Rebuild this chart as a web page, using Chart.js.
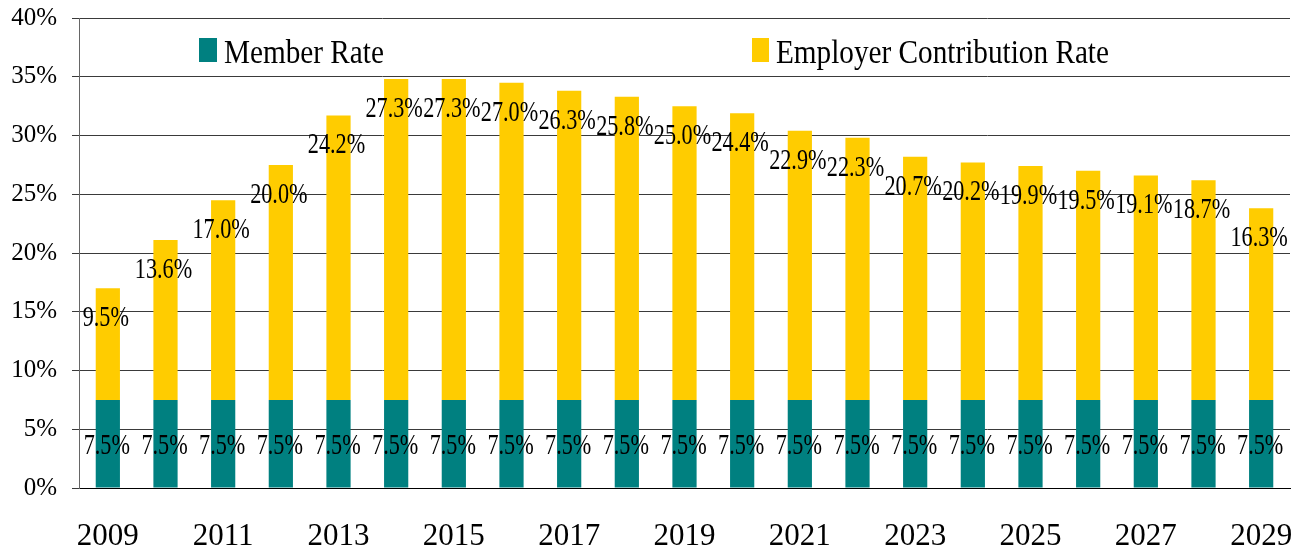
<!DOCTYPE html>
<html>
<head>
<meta charset="utf-8">
<script src="https://cdn.jsdelivr.net/npm/chart.js@4/dist/chart.umd.min.js"></script>
<style>
  html, body { margin: 0; padding: 0; background: #fff; }
  #wrap { width: 1301px; height: 554px; }
</style>
</head>
<body>
<div id="wrap"><canvas id="chart" width="1301" height="554"></canvas></div>
<script>
const years = ['2009', '2010', '2011', '2012', '2013', '2014', '2015', '2016', '2017', '2018', '2019',
  '2020', '2021', '2022', '2023', '2024', '2025', '2026', '2027', '2028', '2029'];
const memberRate = [7.5, 7.5, 7.5, 7.5, 7.5, 7.5, 7.5, 7.5, 7.5, 7.5, 7.5,
  7.5, 7.5, 7.5, 7.5, 7.5, 7.5, 7.5, 7.5, 7.5, 7.5];
const employerRate = [9.5, 13.6, 17.0, 20.0, 24.2, 27.3, 27.3, 27.0, 26.3, 25.8, 25.0,
  24.4, 22.9, 22.3, 20.7, 20.2, 19.9, 19.5, 19.1, 18.7, 16.3];
const yTicks = [0, 5, 10, 15, 20, 25, 30, 35, 40];

const SERIF = '"Liberation Serif", "Times New Roman", serif';

// draws the value labels and the in-plot legend
const labelPlugin = {
  id: 'barLabels',
  afterDatasetsDraw(chart) {
    const ctx = chart.ctx;
    ctx.save();
    ctx.fillStyle = '#000';
    ctx.textAlign = 'center';
    ctx.textBaseline = 'middle';
    ctx.font = '30px ' + SERIF;
    chart.data.datasets.forEach((ds, i) => {
      const meta = chart.getDatasetMeta(i);
      meta.data.forEach((el, j) => {
        const txt = ds.data[j].toFixed(1) + '%';
        const y = i === 0 ? (el.y + el.base) / 2 + 2 : el.y + 30;
        const x = i === 0 ? el.x - 1 : el.x - 2;
        ctx.save();
        ctx.translate(x, y);
        ctx.scale(0.74, 1);
        ctx.fillText(txt, 0, 0);
        ctx.restore();
      });
    });
    ctx.restore();
  },
  afterDraw(chart) {
    const ctx = chart.ctx;
    const spots = [{ box: 199, w: 18, text: 224 }, { box: 752, w: 17, text: 776 }];
    ctx.save();
    ctx.textBaseline = 'alphabetic';
    ctx.textAlign = 'left';
    ctx.font = '34px ' + SERIF;
    chart.data.datasets.forEach((ds, i) => {
      const s = spots[i];
      ctx.fillStyle = ds.backgroundColor;
      ctx.fillRect(s.box, 38, s.w, 24);
      ctx.fillStyle = '#000';
      ctx.save();
      ctx.translate(s.text, 63);
      ctx.scale(0.86, 1);
      ctx.fillText(ds.label, 0, 0);
      ctx.restore();
    });
    ctx.restore();
  }
};

new Chart(document.getElementById('chart'), {
  type: 'bar',
  data: {
    labels: years,
    datasets: [
      {
        label: 'Member Rate',
        data: memberRate,
        backgroundColor: '#008080',
        barPercentage: 0.42,
        categoryPercentage: 1
      },
      {
        label: 'Employer Contribution Rate',
        data: employerRate,
        backgroundColor: '#FFCC00',
        barPercentage: 0.42,
        categoryPercentage: 1
      }
    ]
  },
  options: {
    responsive: false,
    animation: false,
    layout: { padding: { top: 18, right: 11, left: 0, bottom: 0 } },
    plugins: {
      legend: { display: false },
      tooltip: { enabled: false }
    },
    scales: {
      x: {
        stacked: true,
        grid: { display: false, drawTicks: false },
        border: { display: true, color: '#000', width: 1 },
        ticks: {
          autoSkip: false,
          maxRotation: 0,
          padding: 30,
          color: '#000',
          font: { family: SERIF, size: 31 },
          callback: function (v, i) { return i % 2 === 0 ? years[i] : ''; }
        },
        afterFit(scale) {
          scale.height = 66;
          scale.paddingLeft = 0;
          scale.paddingRight = 0;
        }
      },
      y: {
        stacked: true,
        min: 0,
        max: 40,
        afterBuildTicks(scale) { scale.ticks = yTicks.map(v => ({ value: v })); },
        grid: { color: '#3a3a3a', lineWidth: 1, tickLength: 7 },
        border: { display: true, color: '#666', width: 1 },
        ticks: {
          padding: 15,
          color: '#000',
          font: { family: SERIF, size: 25 },
          callback: v => v + '%'
        },
        afterFit(scale) {
          scale.width = 79;
          scale.paddingTop = 0;
          scale.paddingBottom = 0;
        }
      }
    }
  },
  plugins: [labelPlugin]
});
</script>
</body>
</html>
